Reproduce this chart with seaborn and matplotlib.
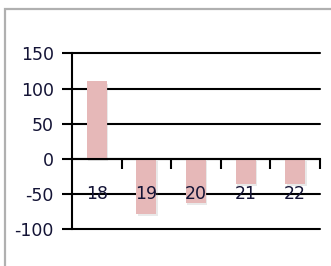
import matplotlib
matplotlib.use("Agg")
import matplotlib.pyplot as plt
import matplotlib.patheffects as pe
import matplotlib.transforms as mtransforms
from matplotlib.patches import Rectangle
import seaborn as sns
import pandas as pd
import numpy as np

categories = ["18", "19", "20", "21", "22"]
values = [110, -78, -62, -35, -35]
yticks = [-100, -50, 0, 50, 100, 150]

sns.set_theme(style="white")
plt.rcParams['font.family'] = ['DejaVu Sans']

W, H = 331, 266
fig = plt.figure(figsize=(W / 100, H / 100), dpi=100)
fig.patch.set_facecolor("white")

# outer gray frame (left & top visible)
fig.add_artist(Rectangle((5 / W, -0.1), 1.2, (H - 9) / H + 0.1, transform=fig.transFigure,
                         fill=False, edgecolor="#b0b0b0", lw=1.6))

left, right = 72 / W, 320 / W
bottom, top = (H - 229.3) / H, (H - 53.3) / H
ax = fig.add_axes([left, bottom, right - left, top - bottom])

df = pd.DataFrame({"cat": categories, "val": values})
sns.barplot(data=df, x="cat", y="val", color="#e6b8b8", saturation=1, width=0.4, ax=ax,
            edgecolor="none")
for p in ax.patches:
    p.set_path_effects([pe.SimplePatchShadow(offset=(1, -1.5), shadow_rgbFace="#888888", alpha=0.18),
                        pe.Normal()])
    p.set_zorder(3)

ax.set_ylim(-100, 150)
ax.set_xlim(-0.5, len(categories) - 0.5)
ax.set_yticks(yticks)
ax.set_yticklabels([str(v) for v in yticks])
ax.yaxis.grid(True, color="black", lw=1.5)
ax.set_axisbelow(True)
for gl in ax.yaxis.get_gridlines():
    gl.set_clip_on(False)

for s in ["top", "right"]:
    ax.spines[s].set_visible(False)
ax.spines["left"].set_color("black")
ax.spines["left"].set_linewidth(1.5)
ax.spines["bottom"].set_position(("data", 0))
ax.spines["bottom"].set_color("black")
ax.spines["bottom"].set_linewidth(1.5)
ax.spines["bottom"].set_zorder(5)

labcol = "#141436"
fs = 12.5
ax.tick_params(axis="y", which="major", direction="out", length=7, width=1.5, color="black",
               labelsize=fs, labelcolor=labcol, pad=6, left=True)
ax.set_xticks(range(len(categories)))
ax.set_xticklabels([])
ax.tick_params(axis="x", which="major", length=0)
ax.set_xticks(np.arange(0.5, len(categories), 1.0), minor=True)
ax.tick_params(axis="x", which="minor", direction="out", length=7, width=1.5, color="black", bottom=True)

# category labels drawn on top of bars
trans = mtransforms.blended_transform_factory(ax.transData, ax.transData)
for i, c in enumerate(categories):
    ax.text(i, -50, c, ha="center", va="center", fontsize=fs, color=labcol, zorder=10,
            transform=trans, clip_on=False)

ax.set_xlabel("")
ax.set_ylabel("")

fig.savefig("out.png", dpi=100, facecolor="white")
